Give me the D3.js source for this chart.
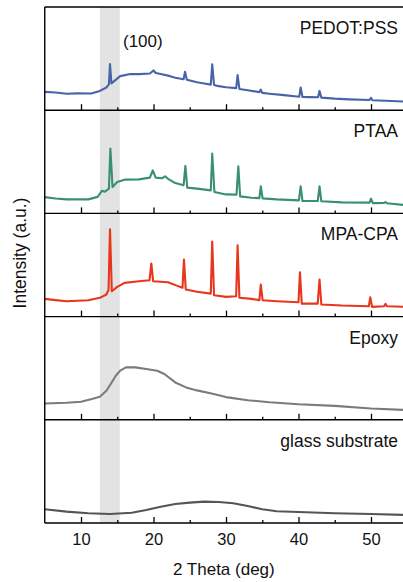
<!DOCTYPE html>
<html>
<head>
<meta charset="utf-8">
<script src="https://cdn.jsdelivr.net/npm/d3@7"></script>
<style>
    body { margin: 0; background: #fff; }
    svg text { font-family: "Liberation Sans", Arial, sans-serif; fill: #111; }
</style>
</head>
<body>
<div id="chart"></div>
<script>
// panel labels + colours, top to bottom
const labels = ["PEDOT:PSS", "PTAA", "MPA-CPA", "Epoxy", "glass substrate"];
const colors = ["#4863a8", "#3a8f6f", "#e8361c", "#7b7b7b", "#555555"];

// [2theta, intensity a.u.] (0 = panel bottom, 100 = panel top)
const pedot = [[5,17.8],[6.5,17.2],[8,16],[9.5,16.3],[11.4,16.2],[12.6,18.7],[13.5,22],[13.85,25],[14.0,44.7],[14.2,26],
    [15.4,33],[16.8,35],[18,35],[19.5,35.5],[19.75,37],[20.0,38.5],[20.3,36],[21,35],[22.3,33],[23,31.5],[24.15,30],
    [24.35,37.2],[24.6,29.5],[26,27],[27,25.8],[27.9,24.8],[28.1,44.4],[28.35,24.5],[29,23.3],[30,22.3],[31.4,21.4],
    [31.6,34],[31.85,20.6],[33,19.4],[34.6,17.5],[34.8,20],[35.0,16.8],[36,16],[38,14.6],[40.1,13.1],[40.3,22],
    [40.55,12.8],[41.5,12.7],[42.7,12.6],[42.9,18.7],[43.15,12.2],[45,11.2],[47,10.5],[49.8,9.9],[50,12],[50.2,9.7],
    [52,9.2],[55,8.3]];
const ptaa = [[5,15.8],[6.5,14.5],[8,13.6],[9.5,13.6],[11,13.6],[12.3,16],[12.9,22],[13.3,21],[13.85,24],[14.05,62.8],
    [14.35,25.5],[15,30.4],[16,32.7],[18,33],[19.5,34.7],[19.9,41.7],[20.3,34.7],[21.2,34],[21.6,36],[22,33.5],
    [23,29.4],[24.15,27.2],[24.4,46],[24.65,25],[26,24],[27.9,22.3],[28.1,58],[28.4,20.7],[30,18.4],[31.45,18.2],
    [31.7,45.6],[31.95,16.5],[33.5,15.2],[34.6,14.8],[34.8,26.2],[35.05,14.6],[37,13.6],[40.05,12.6],[40.3,26.2],
    [40.55,12],[42.65,12],[42.9,26.2],[43.15,11.7],[46,10.7],[49.8,10.4],[50,14.3],[50.25,10],[51.8,10.2],[52,11],
    [52.2,9.8],[55,7.8]];
const mpa = [[5,17.2],[6.5,16],[8,14.9],[9.5,15.3],[11,15.8],[12.6,18.2],[13.5,21.4],[13.8,26.2],[14.0,84.5],[14.25,24.6],
    [15,28.8],[16,32.7],[18,34.3],[19.45,35.2],[19.7,51.5],[19.95,34.3],[22,33.3],[23.2,30],[24.0,27.9],[24.2,55.3],
    [24.45,26.2],[26,24],[27.9,22.3],[28.1,72.8],[28.35,20.7],[30,19.1],[31.4,19.7],[31.6,69],[31.85,18.2],[33.5,17.2],
    [34.6,16],[34.8,31],[35.05,15.8],[37,14.9],[40.0,13.9],[40.2,43],[40.45,12.6],[42.65,12.6],[42.9,36],[43.15,11.7],
    [46,10.7],[49.7,10],[49.9,18.7],[50.15,9.4],[51.8,10],[52,12.3],[52.2,10],[55,9.4]];
const epoxy = [[5,15.8],[8,16.5],[10,17.5],[11.5,20.1],[12.6,22.3],[13.5,28.2],[14.1,34.7],[14.8,42.7],[15.4,47.6],
    [16.2,50.8],[17.5,50.8],[19,49.2],[20.5,47.6],[21.5,44.4],[23,36.2],[24.5,31.4],[26,28.5],[28,25.5],[30,22],
    [33,19],[36,17],[40,15],[45,13.5],[50,11],[55,9.4]];
const glass = [[5,13.3],[8,11],[11,9.4],[14,8.7],[17,10],[19,12.6],[21,15.8],[23,18.4],[25,19.7],[27,20.7],[29,20.4],
    [31,19.1],[33,16.5],[35,13.3],[37,11.4],[40,10.7],[45,9.4],[50,8.7],[55,7.8]];
const series = [pedot, ptaa, mpa, epoxy, glass];

const majorTicks = [10, 20, 30, 40, 50];
const minorTicks = [15, 25, 35, 45];
const band = [12.6, 15.35]; // shaded (100) region

const W = 403, H = 582;
const plotTop = 7, plotBottom = 523, left = 44.75;
const panelH = (plotBottom - plotTop) / series.length;

const svg = d3.select("#chart").append("svg")
    .attr("width", W)
    .attr("height", H);

const x = d3.scaleLinear().domain([5, 55]).range([left, left + 50 * 7.25]);
const y = d3.scaleLinear().domain([0, 100]).range([panelH, 0]);

// grey band behind everything
svg.append("rect")
    .attr("x", x(band[0]))
    .attr("y", plotTop)
    .attr("width", x(band[1]) - x(band[0]))
    .attr("height", plotBottom - plotTop)
    .attr("fill", "#e3e3e3");

const line = d3.line()
    .x(d => x(d[0]))
    .y(d => y(d[1]));

series.forEach(function(data, i) {
    const g = svg.append("g")
        .attr("transform", "translate(0," + (plotTop + i * panelH) + ")");

    g.append("path")
        .datum(data)
        .attr("fill", "none")
        .attr("stroke", colors[i])
        .attr("stroke-width", 2.1)
        .attr("stroke-linejoin", "round")
        .attr("d", line);

    // inward ticks along the panel bottom
    const major = d3.axisBottom(x).tickValues(majorTicks).tickSize(-6).tickFormat("");
    const minor = d3.axisBottom(x).tickValues(minorTicks).tickSize(-3).tickFormat("");
    [major, minor].forEach(function(ax) {
        const a = g.append("g")
            .attr("transform", "translate(0," + panelH + ")")
            .call(ax);
        a.select(".domain").remove();
        a.selectAll("line").attr("stroke", "#000").attr("stroke-width", 1.3);
    });

    // panel separator / bottom axis line
    g.append("line")
        .attr("x1", left).attr("x2", W)
        .attr("y1", panelH).attr("y2", panelH)
        .attr("stroke", "#000")
        .attr("stroke-width", 1.4);

    g.append("text")
        .attr("x", 398)
        .attr("y", 27)
        .attr("text-anchor", "end")
        .style("font-size", "17.5px")
        .text(labels[i]);
});

// tick labels on the bottom panel
const xLabels = svg.append("g")
    .attr("transform", "translate(0," + plotBottom + ")")
    .call(d3.axisBottom(x).tickValues(majorTicks).tickSize(0).tickPadding(10));
xLabels.select(".domain").remove();
xLabels.selectAll("text")
    .style("font-size", "16.5px")
    .style("font-family", "'Liberation Sans', Arial, sans-serif")
    .attr("fill", "#111");

// top frame and left frame
svg.append("line")
    .attr("x1", left).attr("x2", W)
    .attr("y1", plotTop).attr("y2", plotTop)
    .attr("stroke", "#000").attr("stroke-width", 1.4);
svg.append("line")
    .attr("x1", left).attr("x2", left)
    .attr("y1", plotTop).attr("y2", plotBottom)
    .attr("stroke", "#000").attr("stroke-width", 1.4);

svg.append("text")
    .attr("x", 123)
    .attr("y", 47)
    .style("font-size", "17px")
    .text("(100)");

// axis titles
svg.append("text")
    .attr("x", (left + W) / 2)
    .attr("y", 575)
    .attr("text-anchor", "middle")
    .style("font-size", "17px")
    .text("2 Theta (deg)");

svg.append("text")
    .attr("transform", "rotate(-90)")
    .attr("x", -253)
    .attr("y", 26)
    .attr("text-anchor", "middle")
    .style("font-size", "17.5px")
    .text("Intensity (a.u.)");
</script>
</body>
</html>
